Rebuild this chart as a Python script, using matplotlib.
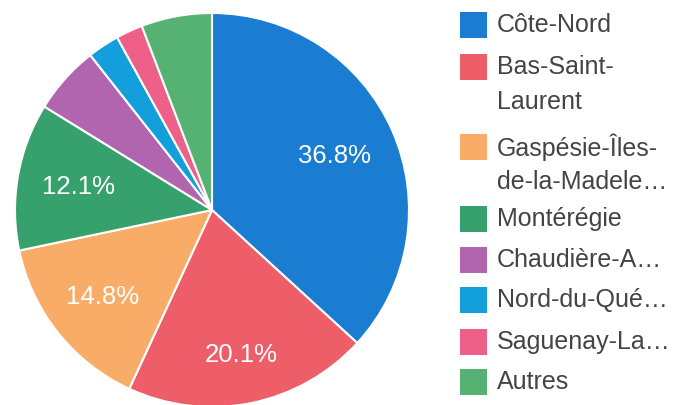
import matplotlib
matplotlib.use("Agg")
import matplotlib.pyplot as plt
import numpy as np
from matplotlib.patches import Rectangle

plt.rcParams['font.family'] = ['Liberation Sans', 'DejaVu Sans']

categories = ["Côte-Nord", "Bas-Saint-\nLaurent", "Gaspésie-Îles-\nde-la-Madele…", "Montérégie",
              "Chaudière-A…", "Nord-du-Qué…", "Saguenay-La…", "Autres"]
values = [36.8, 20.1, 14.8, 12.1, 5.6, 2.6, 2.2, 5.8]
colors = ["#1a7dd2", "#ee5e69", "#f8ac68", "#37a16e", "#b065ae", "#139fdb", "#ee6088", "#55b273"]

W, H = 677, 405
fig = plt.figure(figsize=(W / 100, H / 100), dpi=100)
cx, cy, r = 212, 210, 197
ax = fig.add_axes([(cx - r) / W, (H - cy - r) / H, 2 * r / W, 2 * r / H])

def fmt(p):
    return f"{p:.1f}%" if p >= 10 else ""

wedges, texts, autotexts = ax.pie(values, colors=colors, startangle=90, counterclock=False,
                                  autopct=fmt, pctdistance=0.69,
                                  wedgeprops=dict(edgecolor="white", linewidth=1.5),
                                  textprops=dict(color="white", fontsize=18.5))
# per-label radial distance (style)
label_dist = [0.68, 0.75, 0.71, 0.69, 0.69, 0.69, 0.69, 0.69]
for w, t, d in zip(wedges, autotexts, label_dist):
    ang = np.deg2rad((w.theta1 + w.theta2) / 2)
    t.set_position((d * np.cos(ang), d * np.sin(ang)))

ax.set_xlim(-1, 1)
ax.set_ylim(-1, 1)
ax.set_aspect("equal")
ax.axis("off")

# legend drawn manually
row_y = [25, 67, 147, 219, 260, 300, 342, 382]  # first-line centers in px
line_gap = 35
for lab, col, y in zip(categories, colors, row_y):
    fig.patches.append(Rectangle((460 / W, (H - y - 13) / H), 27 / W, 26 / H,
                                 transform=fig.transFigure, facecolor=col, edgecolor="none"))
    for i, line in enumerate(lab.split("\n")):
        fig.text(497 / W, (H - y - i * line_gap) / H, line, ha="left", va="center",
                 fontsize=18, color="#444444", transform=fig.transFigure)

fig.savefig("out.png", dpi=100)
